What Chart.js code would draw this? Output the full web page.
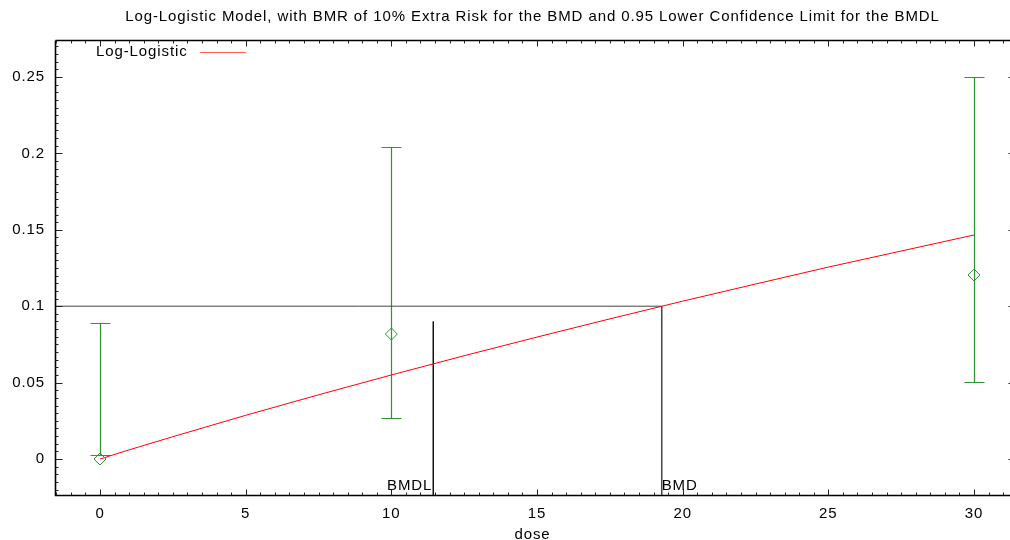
<!DOCTYPE html>
<html lang="en">
<head>
<meta charset="UTF-8">
<script src="https://cdn.jsdelivr.net/npm/chart.js"></script>
<title>Log-Logistic Model</title>
<style>
  html, body { margin: 0; padding: 0; background: #fff; }
  #wrap { width: 1010px; height: 540px; }
</style>
</head>
<body>
<div id="wrap"><canvas id="bmdChart"></canvas></div>
<script>
// observed data with confidence limits
const doseObs = [0, 10, 30];
const respObs = [0, 0.0818, 0.1204];
const lowerCI = [0.0026, 0.0268, 0.0504];
const upperCI = [0.089, 0.204, 0.25];

// fitted log-logistic curve
const curveDose = [0, 1, 2.5, 5, 7.5, 10, 12.5, 15, 17.5, 20, 22.5, 25, 27.5, 30];
const curveResp = [0, 0.006, 0.0146, 0.0286, 0.042, 0.055, 0.0676, 0.0798, 0.0917, 0.1033, 0.1145, 0.1256, 0.1361, 0.1466];

const bmr = 0.1;
const bmd = 19.28;
const bmdl = 11.44;
const bmdlTop = 0.09;

const xTicks = [0, 5, 10, 15, 20, 25, 30];
const yTicks = [0, 0.05, 0.1, 0.15, 0.2, 0.25];
const xMin = -1.545, xMax = 31.235;
const yMin = -0.0242, yMax = 0.2742;

const FONT = "'Liberation Sans', Arial, sans-serif";
const FSIZE = 15;
const GREEN = 'rgb(45,150,45)';

// frame, inward ticks, error bars, legend and BMD labels
const decor = {
    id: 'decor',
    beforeDraw(chart) {
        chart.ctx.letterSpacing = '0.9px';
    },
    beforeDatasetsDraw(chart) {
        const ctx = chart.ctx, x = chart.scales.x, y = chart.scales.y;
        ctx.save();
        ctx.strokeStyle = GREEN;
        ctx.lineWidth = 1.2;
        doseObs.forEach((d, i) => {
            const px = Math.round(x.getPixelForValue(d)) + 0.5;
            const lo = Math.round(y.getPixelForValue(lowerCI[i])) + 0.5;
            const hi = Math.round(y.getPixelForValue(upperCI[i])) + 0.5;
            ctx.beginPath();
            ctx.moveTo(px, lo); ctx.lineTo(px, hi);
            ctx.moveTo(px - 10, lo); ctx.lineTo(px + 10, lo);
            ctx.moveTo(px - 10, hi); ctx.lineTo(px + 10, hi);
            ctx.stroke();
        });
        ctx.restore();
    },
    afterDraw(chart) {
        const ctx = chart.ctx, a = chart.chartArea;
        const x = chart.scales.x, y = chart.scales.y;
        const L = Math.round(a.left) + 0.5, T = Math.round(a.top) + 0.5;
        const B = Math.round(a.bottom) - 0.5, R = Math.round(a.right) - 0.5;
        ctx.save();
        ctx.strokeStyle = '#000';
        ctx.lineWidth = 1.6;
        ctx.beginPath();
        ctx.moveTo(L, T); ctx.lineTo(R + 1, T);
        ctx.moveTo(L, T); ctx.lineTo(L, B);
        ctx.lineTo(R + 1, B);
        ctx.stroke();

        ctx.lineWidth = 1;
        ctx.strokeStyle = '#222';
        ctx.beginPath();
        // x ticks (bottom and top), minor every 0.5
        for (let k = -3; k <= 62; k++) {
            const v = k * 0.5;
            const px = Math.round(x.getPixelForValue(v)) + 0.5;
            const len = k % 10 === 0 ? 6 : 3;
            ctx.moveTo(px, B); ctx.lineTo(px, B - len);
            ctx.moveTo(px, T); ctx.lineTo(px, T + len);
        }
        // y ticks (left and right), minor every 0.005
        for (let k = -4; k <= 54; k++) {
            const v = k * 0.005;
            const py = Math.round(y.getPixelForValue(v)) + 0.5;
            const major = k % 10 === 0;
            ctx.moveTo(L, py); ctx.lineTo(L + (major ? 7 : 3), py);
            if (major) { ctx.moveTo(R + 1, py); ctx.lineTo(R - 1, py); }
        }
        ctx.stroke();

        // legend
        const ds = chart.data.datasets[0];
        ctx.font = FSIZE + 'px ' + FONT;
        ctx.fillStyle = '#000';
        ctx.textBaseline = 'middle';
        ctx.textAlign = 'left';
        ctx.fillText(ds.label, 96, 52);
        ctx.strokeStyle = 'rgba(255,70,70,0.85)';
        ctx.beginPath();
        ctx.moveTo(200, 52.5); ctx.lineTo(246, 52.5);
        ctx.stroke();

        // BMD / BMDL labels
        ctx.textBaseline = 'alphabetic';
        ctx.textAlign = 'right';
        ctx.fillText('BMDL', x.getPixelForValue(bmdl) - 1, 490);
        ctx.textAlign = 'left';
        ctx.fillText('BMD', x.getPixelForValue(bmd), 490);
        ctx.restore();
    }
};

new Chart(document.getElementById('bmdChart'), {
    type: 'scatter',
    data: {
        datasets: [
            {
                label: 'Log-Logistic',
                data: curveDose.map((d, i) => ({ x: d, y: curveResp[i] })),
                showLine: true,
                borderColor: 'rgb(255,0,0)',
                borderWidth: 1,
                pointRadius: 0,
                order: 1
            },
            {
                label: 'BMR',
                data: [{ x: xMin, y: bmr }, { x: bmd, y: bmr }, { x: bmd, y: yMin }],
                showLine: true,
                borderColor: '#444',
                borderWidth: 1,
                pointRadius: 0,
                order: 2
            },
            {
                label: 'BMDL',
                data: [{ x: bmdl, y: bmdlTop }, { x: bmdl, y: yMin }],
                showLine: true,
                borderColor: '#111',
                borderWidth: 1,
                pointRadius: 0,
                order: 2
            },
            {
                label: 'Observed',
                data: doseObs.map((d, i) => ({ x: d, y: respObs[i] })),
                pointStyle: 'rectRot',
                pointRadius: 6,
                pointBorderWidth: 1,
                pointBorderColor: GREEN,
                pointBackgroundColor: 'rgba(0,0,0,0)',
                order: 0
            }
        ]
    },
    options: {
        responsive: true,
        maintainAspectRatio: false,
        animation: false,
        layout: { padding: 0, autoPadding: false },
        plugins: {
            legend: { display: false },
            tooltip: { enabled: false },
            title: {
                display: true,
                fullSize: false,
                text: 'Log-Logistic Model, with BMR of 10% Extra Risk for the BMD and 0.95 Lower Confidence Limit for the BMDL',
                color: '#000',
                font: { family: FONT, size: FSIZE, weight: 'normal' },
                padding: { top: 8, bottom: 14 }
            }
        },
        scales: {
            x: {
                type: 'linear',
                min: xMin,
                max: xMax,
                grid: { display: false, drawTicks: false },
                border: { display: false },
                afterBuildTicks: s => { s.ticks = xTicks.map(v => ({ value: v })); },
                afterFit: s => { s.height = 44; s.paddingLeft = 0; s.paddingRight = 0; },
                ticks: {
                    color: '#000',
                    padding: 9,
                    maxRotation: 0,
                    font: { family: FONT, size: FSIZE },
                    callback: v => String(v)
                },
                title: {
                    display: true,
                    text: 'dose',
                    color: '#000',
                    padding: { top: 4, bottom: -4 },
                    font: { family: FONT, size: FSIZE }
                }
            },
            y: {
                type: 'linear',
                min: yMin,
                max: yMax,
                grid: { display: false, drawTicks: false },
                border: { display: false },
                afterBuildTicks: s => { s.ticks = yTicks.map(v => ({ value: v })); },
                afterFit: s => { s.width = 55; s.paddingTop = 0; s.paddingBottom = 0; },
                ticks: {
                    color: '#000',
                    padding: 10,
                    font: { family: FONT, size: FSIZE },
                    callback: v => String(v)
                }
            }
        }
    },
    plugins: [decor]
});
</script>
</body>
</html>
